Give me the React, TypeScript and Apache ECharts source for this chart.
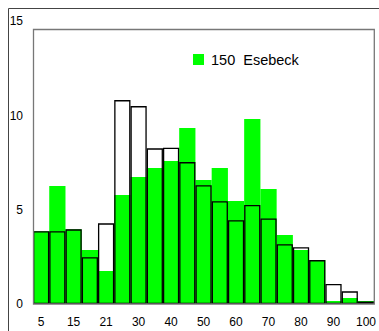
import React, { useEffect, useRef } from "react";
import * as echarts from "echarts";

const categories = ["5", "10", "15", "18", "21", "25", "30", "35", "40", "45", "50", "55", "60", "65", "70", "75", "80", "85", "90", "95", "100"];
const esebeck = [3.86, 6.26, 3.96, 2.86, 1.75, 5.78, 6.74, 7.21, 7.59, 9.34, 6.58, 7.21, 5.46, 9.81, 6.1, 3.66, 2.86, 2.33, 0.16, 0.32, 0.16];
const reference = [3.86, 3.86, 3.96, 2.48, 4.28, 10.82, 10.5, 8.26, 8.29, 7.53, 6.3, 5.45, 4.44, 5.25, 4.54, 3.17, 3.01, 2.33, 1.06, 0.67, 0.13];
const seriesName = "150  Esebeck";
const yTicks = [0, 5, 10, 15];

const FONT = "'Liberation Sans', Arial, sans-serif";

export default function App() {
  const ref = useRef<HTMLDivElement>(null);
  useEffect(() => {
    if (!ref.current) return;
    const chart = echarts.init(ref.current, undefined, { renderer: "svg" });
    chart.setOption({
      animation: false,
      backgroundColor: "#fff",
      textStyle: { fontFamily: FONT },
      grid: { left: 33, right: 4.7, top: 21.3, bottom: 27, containLabel: false },
      legend: {
        data: [seriesName],
        left: 188,
        top: 47,
        padding: 5,
        itemWidth: 11,
        itemHeight: 11,
        itemGap: 5,
        icon: "rect",
        formatter: (name: string) => name.replace(/ /g, "\u00a0"),
        textStyle: { fontSize: 14.5, color: "#000", fontFamily: FONT, padding: [0, 0, 0, 2] },
      },
      xAxis: {
        type: "category",
        data: categories,
        axisLine: { show: false },
        axisTick: { show: false },
        axisLabel: { interval: 1, color: "#000", fontSize: 12, margin: 12, fontFamily: FONT },
        splitLine: { show: false },
      },
      yAxis: {
        type: "value",
        min: yTicks[0],
        max: yTicks[yTicks.length - 1],
        interval: 5,
        axisLine: { show: false },
        axisTick: { show: false },
        splitLine: { show: false },
        axisLabel: { color: "#000", fontSize: 12, margin: 10, fontFamily: FONT, padding: [0, 0, 4, 0] },
      },
      graphic: [
        { type: "line", shape: { x1: 8.5, y1: 8.5, x2: 379, y2: 8.5 }, style: { stroke: "#444", lineWidth: 1 } },
        { type: "line", shape: { x1: 8.5, y1: 8.5, x2: 8.5, y2: 331 }, style: { stroke: "#444", lineWidth: 1 } },
        {
          type: "rect",
          shape: { x: 33.5, y: 29.5, width: 340.8, height: 274.5 },
          style: { stroke: "#777", fill: "none", lineWidth: 1.3 },
          z: 10,
        },
      ],
      series: [
        {
          name: seriesName,
          type: "bar",
          data: esebeck,
          barCategoryGap: 0,
          barGap: "-100%",
          itemStyle: { color: "#00ff00" },
        },
        {
          name: "ref",
          type: "bar",
          data: reference,
          barCategoryGap: 0,
          barGap: "-100%",
          itemStyle: { color: "rgba(0,0,0,0)", borderColor: "#000", borderWidth: 1.3 },
        },
      ],
    });
    return () => chart.dispose();
  }, []);
  return <div ref={ref} style={{ position: "absolute", left: 0, top: 0, width: 379, height: 331 }} />;
}
